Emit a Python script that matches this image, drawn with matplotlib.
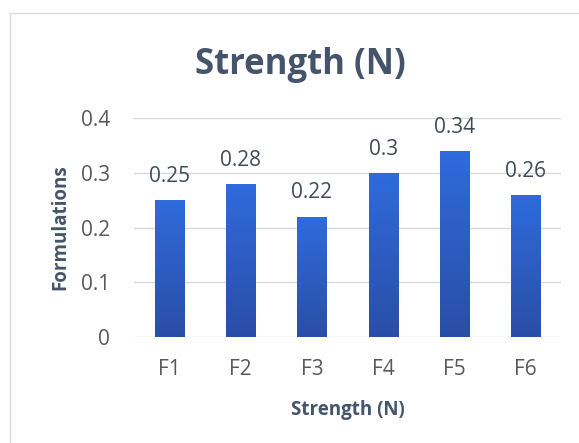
import numpy as np
import matplotlib.pyplot as plt
from matplotlib.patches import Rectangle
from matplotlib.colors import LinearSegmentedColormap

# data
categories = ['F1', 'F2', 'F3', 'F4', 'F5', 'F6']
strength = [0.25, 0.28, 0.22, 0.30, 0.34, 0.26]
labels = ['0.25', '0.28', '0.22', '0.3', '0.34', '0.26']
y_ticks = [0, 0.1, 0.2, 0.3, 0.4]
y_tick_labels = ['0', '0.1', '0.2', '0.3', '0.4']

plt.rcParams['font.family'] = ['Open Sans', 'DejaVu Sans']

fig = plt.figure(figsize=(5.79, 4.43), dpi=100)
ax = fig.add_axes([0.2314, 0.2393, 0.7376, 0.4943])

# light chart border
fig.patches.append(Rectangle((10 / 579, -0.01), 1.0, 1 - 13 / 443 + 0.01,
                             transform=fig.transFigure, fill=False,
                             edgecolor='#D9D9D9', linewidth=1.0))

x = np.arange(len(categories))
bars = ax.bar(x, strength, width=0.41, color='#2C5CC5', zorder=3)

# vertical gradient on each bar
grad = np.linspace(0, 1, 256).reshape(-1, 1)
cmap = LinearSegmentedColormap.from_list('bar', ['#2A4EA6', '#2F6BDC'])
for bar in bars:
    x0, w, h = bar.get_x(), bar.get_width(), bar.get_height()
    im = ax.imshow(grad, extent=[x0, x0 + w, 0, h], origin='lower',
                   cmap=cmap, aspect='auto', zorder=3)
    im.set_clip_path(bar)

for xi, v, lab in zip(x, strength, labels):
    ax.text(xi, v + 0.024, lab, ha='center', va='bottom', fontsize=15,
            color='#404A58')

ax.set_xlim(-0.5, len(categories) - 0.5)
ax.set_ylim(0, 0.4)
ax.set_yticks(y_ticks)
ax.set_yticklabels(y_tick_labels)
ax.set_xticks(x)
ax.set_xticklabels(categories)
ax.tick_params(length=0, labelsize=15, labelcolor='#595959')
ax.tick_params(axis='x', pad=16)
ax.tick_params(axis='y', pad=17)
ax.grid(axis='y', color='#D9D9D9', linewidth=1.0, zorder=0)
ax.set_axisbelow(True)
for s in ax.spines.values():
    s.set_visible(False)

ax.set_xlabel('Strength (N)', fontsize=13.5, fontweight='bold', color='#44546A',
              labelpad=14)
ax.set_ylabel('Formulations', fontsize=13.5, fontweight='bold', color='#44546A',
              labelpad=8)
fig.text(0.518, 0.853, 'Strength (N)', ha='center', va='center', fontsize=25,
         fontweight='bold', color='#44546A')

fig.savefig('out.png', dpi=100)
